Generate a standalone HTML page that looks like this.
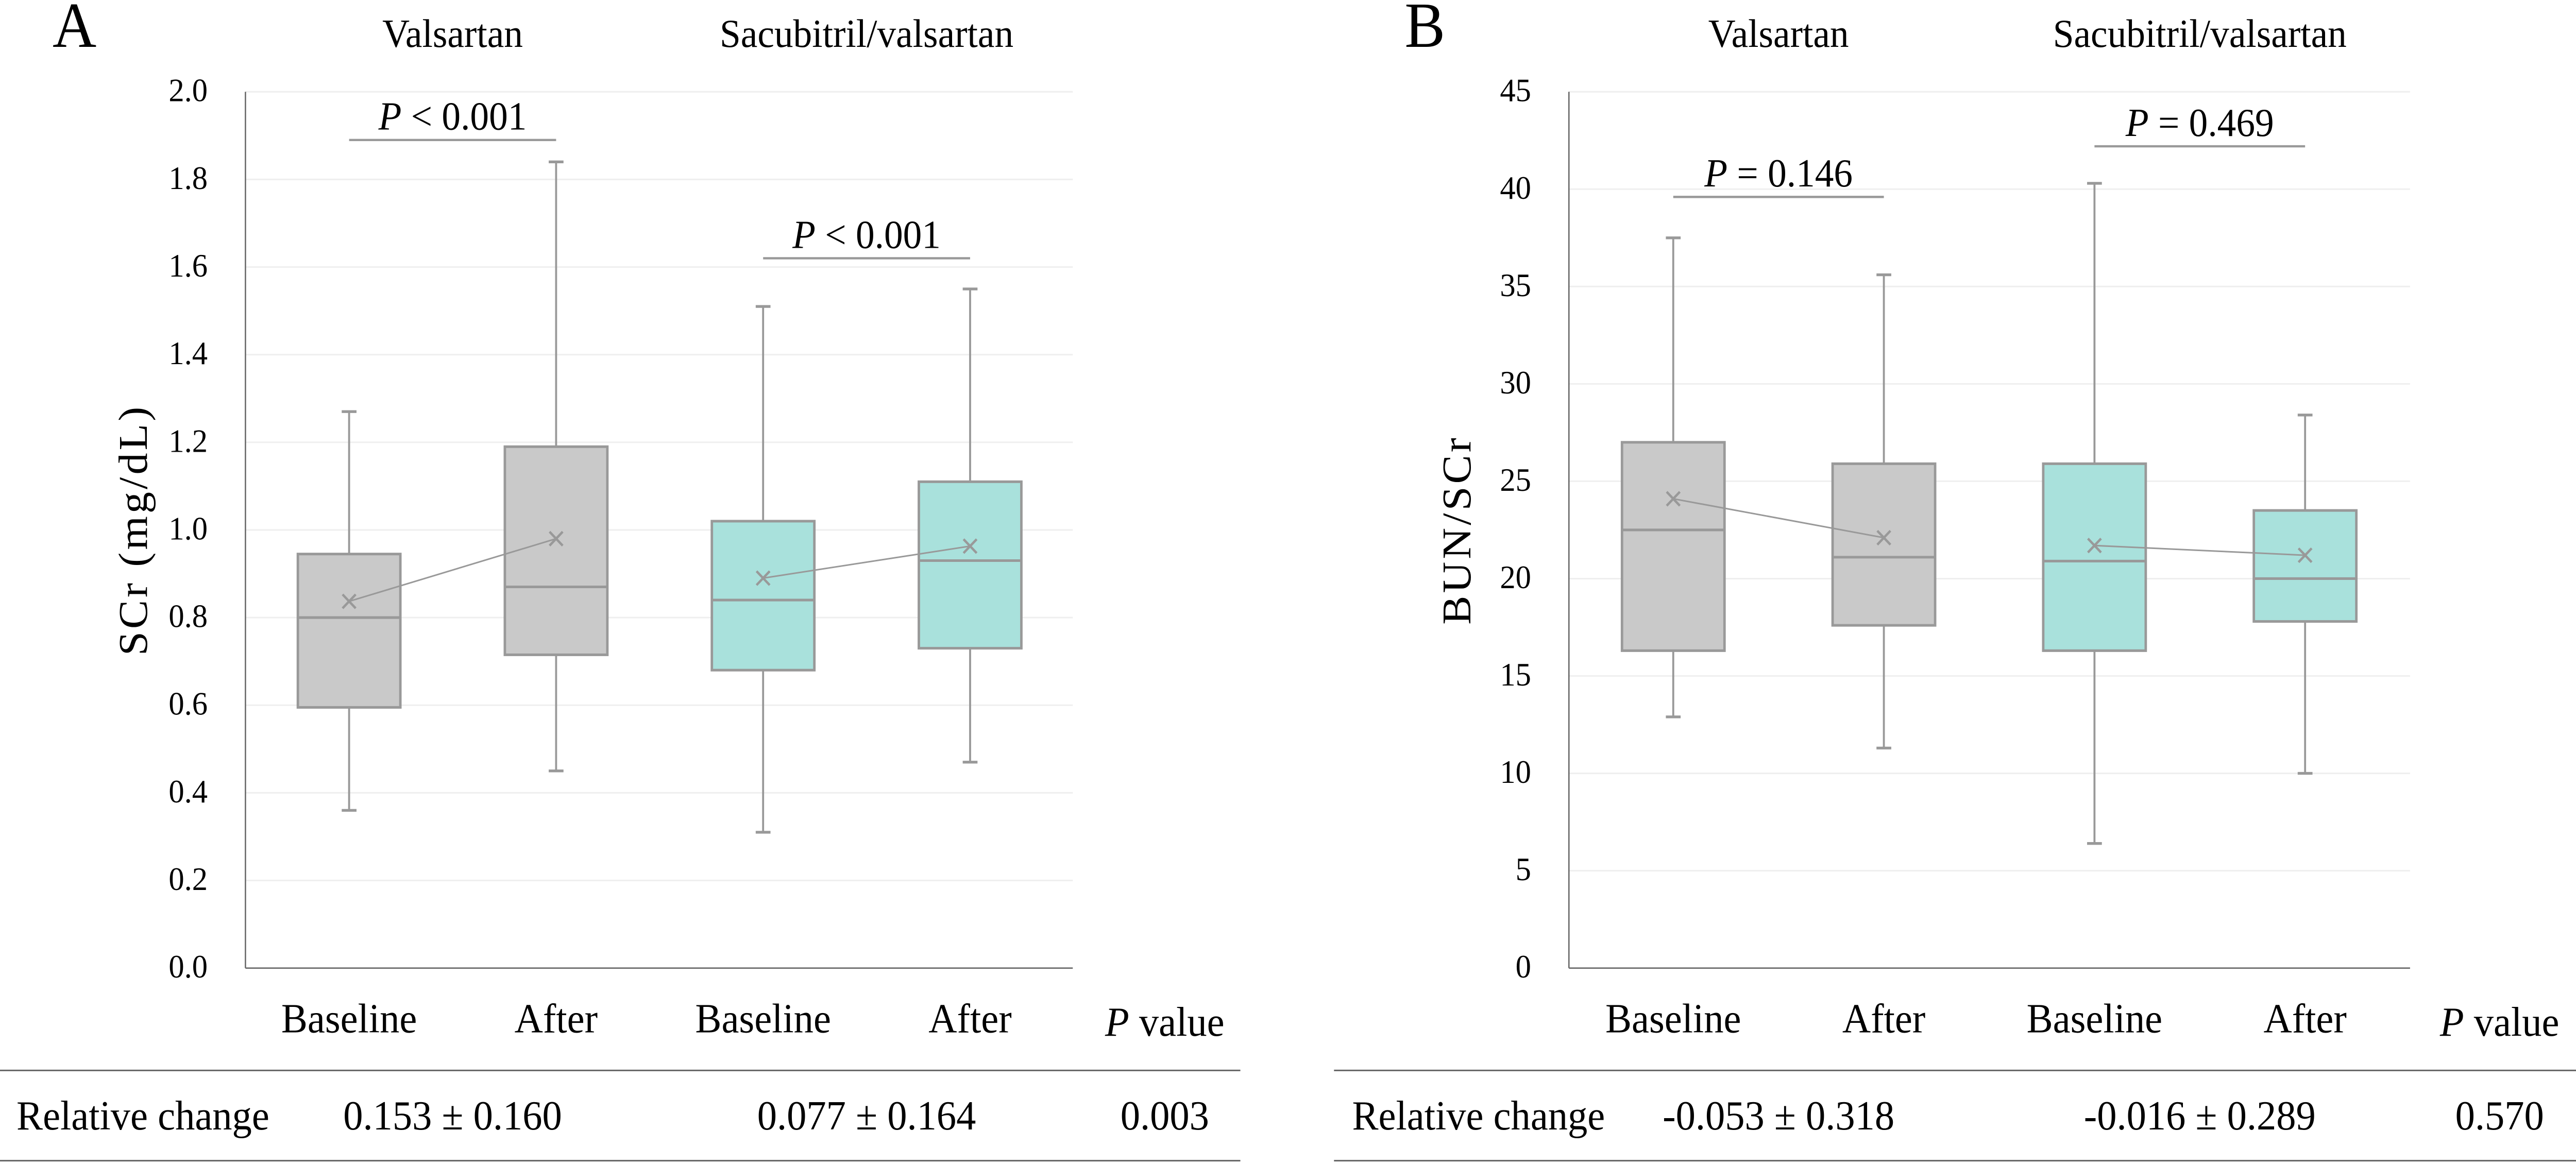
<!DOCTYPE html>
<html><head><meta charset="utf-8">
<style>
html,body{margin:0;padding:0;background:#fff;width:100%;height:100%;overflow:hidden;}
svg{display:block;position:absolute;left:0;top:0;width:100vw;height:100vh;}
text{font-family:"Liberation Serif",serif;fill:#000;}
</style></head>
<body>
<svg id="fig" viewBox="0 0 1568 671.5" preserveAspectRatio="none" xmlns="http://www.w3.org/2000/svg">
<rect x="0" y="0" width="1568" height="671.5" fill="#fff"/>
<g id="root"></g>
</svg>
<script>
// ---------- data ----------
const categories = ["Baseline", "After", "Baseline", "After"];
const groupLabels = ["Valsartan", "Sacubitril/valsartan"];
// Panel A: SCr (mg/dL)
const aMin = [0.36, 0.45, 0.31, 0.47];
const aQ1 = [0.595, 0.715, 0.68, 0.73];
const aMedian = [0.80, 0.87, 0.84, 0.93];
const aQ3 = [0.945, 1.19, 1.02, 1.11];
const aMax = [1.27, 1.84, 1.51, 1.55];
const aMean = [0.837, 0.98, 0.89, 0.963];
const aTicks = [0.0, 0.2, 0.4, 0.6, 0.8, 1.0, 1.2, 1.4, 1.6, 1.8, 2.0];
const aTickLabels = ["0.0","0.2","0.4","0.6","0.8","1.0","1.2","1.4","1.6","1.8","2.0"];
const aPLabels = ["< 0.001", "< 0.001"];
const aPHeights = [1.89, 1.62];
const aTable = ["Relative change", "0.153 ± 0.160", "0.077 ± 0.164", "0.003"];
// Panel B: BUN/SCr
const bMin = [12.9, 11.3, 6.4, 10.0];
const bQ1 = [16.3, 17.6, 16.3, 17.8];
const bMedian = [22.5, 21.1, 20.9, 20.0];
const bQ3 = [27.0, 25.9, 25.9, 23.5];
const bMax = [37.5, 35.6, 40.3, 28.4];
const bMean = [24.1, 22.1, 21.7, 21.2];
const bTicks = [0, 5, 10, 15, 20, 25, 30, 35, 40, 45];
const bTickLabels = ["0","5","10","15","20","25","30","35","40","45"];
const bPLabels = ["= 0.146", "= 0.469"];
const bPHeights = [39.6, 42.2];
const bTable = ["Relative change", "-0.053 ± 0.318", "-0.016 ± 0.289", "0.570"];

const NS = "http://www.w3.org/2000/svg";
const root = document.getElementById("root");
function mk(tag, attrs, parent){
  const e = document.createElementNS(NS, tag);
  for (const k in attrs) e.setAttribute(k, attrs[k]);
  (parent||root).appendChild(e);
  return e;
}

function panel(cfg){
  const g = mk("g", {});
  
  
  const yTop = 52.9, yBot = 558;
  const y = v => yBot - (v - cfg.vmin) / (cfg.vmax - cfg.vmin) * (yBot - yTop);
  const x = i => cfg.x0 + cfg.step * i;
  cfg.ticks.forEach((t, i) => {
    if (i > 0) {
      const gl = mk("line", {x1: cfg.axisX, x2: cfg.right, y1: y(t), y2: y(t), stroke: "#efefef", "stroke-width": 0.9}, g);
      
      
    }
    const tl = mk("text", {x: cfg.axisX - 23, y: y(t) + 5.5, "text-anchor": "end", "font-size": 19}, g);
    tl.textContent = cfg.tickLabels[i];
    
    
  });
  const ya = mk("line", {x1: cfg.axisX, x2: cfg.axisX, y1: yTop, y2: yBot, stroke: "#666", "stroke-width": 0.8}, g);
  
  
  const xa = mk("line", {x1: cfg.axisX, x2: cfg.right, y1: yBot, y2: yBot, stroke: "#666", "stroke-width": 0.8}, g);
  
  
  const yt = mk("text", {x: 0, y: 0, "text-anchor": "middle", "font-size": 25, "letter-spacing": 1.5,
    transform: `translate(${cfg.axisX - 60},${(yTop + yBot) / 2}) rotate(-90)`}, g);
  yt.textContent = cfg.yTitle;
  
  
  const pl = mk("text", {x: cfg.letterX, y: 27, "font-size": 37}, g);
  pl.textContent = cfg.letter;
  
  
  groupLabels.forEach((lab, j) => {
    const h = mk("text", {x: (x(2*j) + x(2*j+1)) / 2, y: 27, "text-anchor": "middle", "font-size": 23}, g);
    h.textContent = lab;
    
    
  });
  const hw = 31.2;
  for (let i = 0; i < categories.length; i++) {
    const cx = x(i);
    const fill = i < 2 ? "#c9c9c9" : "#a9e1dc";
    const bg = mk("g", {}, g);
    
    
    mk("line", {x1: cx, x2: cx, y1: y(cfg.max[i]), y2: y(cfg.q3[i]), stroke: "#999", "stroke-width": 1.2}, bg);
    mk("line", {x1: cx, x2: cx, y1: y(cfg.q1[i]), y2: y(cfg.min[i]), stroke: "#999", "stroke-width": 1.2}, bg);
    mk("line", {x1: cx - 4.5, x2: cx + 4.5, y1: y(cfg.max[i]), y2: y(cfg.max[i]), stroke: "#999", "stroke-width": 1.6}, bg);
    mk("line", {x1: cx - 4.5, x2: cx + 4.5, y1: y(cfg.min[i]), y2: y(cfg.min[i]), stroke: "#999", "stroke-width": 1.6}, bg);
    mk("rect", {x: cx - hw, y: y(cfg.q3[i]), width: 2*hw, height: y(cfg.q1[i]) - y(cfg.q3[i]), fill: fill, stroke: "#999", "stroke-width": 1.5}, bg);
    mk("line", {x1: cx - hw, x2: cx + hw, y1: y(cfg.med[i]), y2: y(cfg.med[i]), stroke: "#999", "stroke-width": 1.5}, bg);
    const xl = mk("text", {x: cx, y: 595, "text-anchor": "middle", "font-size": 24}, g);
    xl.textContent = categories[i];
    
    
  }
  for (let j = 0; j < 2; j++) {
    const a = 2*j, b = 2*j + 1;
    const ml = mk("line", {x1: x(a), x2: x(b), y1: y(cfg.mean[a]), y2: y(cfg.mean[b]), stroke: "#999", "stroke-width": 0.9}, g);
    
    
  }
  for (let i = 0; i < 4; i++) {
    const cx = x(i), cy = y(cfg.mean[i]), s = 4;
    const mm = mk("path", {d: `M${cx-s},${cy-s}L${cx+s},${cy+s}M${cx-s},${cy+s}L${cx+s},${cy-s}`, stroke: "#999", "stroke-width": 1.4, fill: "none"}, g);
    
    
  }
  for (let j = 0; j < 2; j++) {
    const yy = y(cfg.pH[j]);
    const x1 = x(2*j), x2 = x(2*j+1);
    const pb = mk("line", {x1: x1, x2: x2, y1: yy, y2: yy, stroke: "#999", "stroke-width": 1.3}, g);
    
    
    const pt = mk("text", {x: (x1 + x2) / 2, y: yy - 6, "text-anchor": "middle", "font-size": 23}, g);
    pt.innerHTML = '<tspan font-style="italic">P</tspan> ' + cfg.pLabels[j];
    
    
  }
  const pv = mk("text", {x: cfg.pvX, y: 597, "text-anchor": "middle", "font-size": 24}, g);
  pv.innerHTML = '<tspan font-style="italic">P</tspan> value';
  
  
  [617, 669].forEach(ly => {
    const tl = mk("line", {x1: cfg.tableX1, x2: cfg.tableX2, y1: ly, y2: ly, stroke: "#666", "stroke-width": 0.9}, g);
    
    
  });
  const tx = [cfg.rcX, (x(0)+x(1))/2, (x(2)+x(3))/2, cfg.pvX];
  cfg.table.forEach((s, i) => {
    const t = mk("text", {x: tx[i], y: 651, "text-anchor": "middle", "font-size": 24}, g);
    t.textContent = s;
    
    
  });
}

panel({name: "panel-a", letter: "A", letterX: 32, axisX: 149.4, right: 653, x0: 212.5, step: 126,
  vmin: 0, vmax: 2, ticks: aTicks, tickLabels: aTickLabels, yTitle: "SCr (mg/dL)",
  min: aMin, q1: aQ1, med: aMedian, q3: aQ3, max: aMax, mean: aMean,
  pLabels: aPLabels, pH: aPHeights, table: aTable, pvX: 709, rcX: 87, tableX1: 0, tableX2: 755});
panel({name: "panel-b", letter: "B", letterX: 855, axisX: 955, right: 1467, x0: 1018.5, step: 128.2,
  vmin: 0, vmax: 45, ticks: bTicks, tickLabels: bTickLabels, yTitle: "BUN/SCr",
  min: bMin, q1: bQ1, med: bMedian, q3: bQ3, max: bMax, mean: bMean,
  pLabels: bPLabels, pH: bPHeights, table: bTable, pvX: 1521.5, rcX: 900, tableX1: 812, tableX2: 1568});
</script>
</body></html>
